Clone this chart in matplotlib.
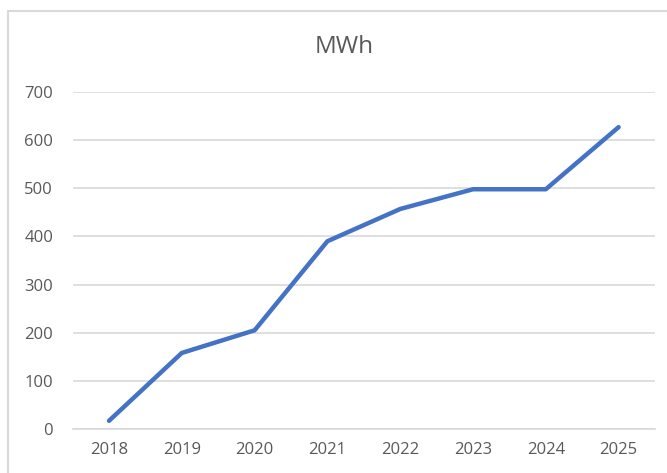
import matplotlib.pyplot as plt
from matplotlib.patches import Rectangle

years = ['2018', '2019', '2020', '2021', '2022', '2023', '2024', '2025']
mwh = [17, 158, 205, 390, 457, 498, 498, 627]
y_ticks = [0, 100, 200, 300, 400, 500, 600, 700]

plt.rcParams['font.family'] = ['Open Sans', 'DejaVu Sans']
text_gray = '#595959'

fig = plt.figure(figsize=(6.67, 4.73), dpi=100)
ax = fig.add_axes([72.6 / 667, 44 / 473, (655 - 72.6) / 667, 337 / 473])

x = range(len(years))
ax.plot(x, mwh, color='#4472C4', linewidth=3.2, solid_capstyle='round',
        solid_joinstyle='round', zorder=3)

ax.set_xlim(-0.5, len(years) - 0.5)
ax.set_ylim(0, 700)
ax.set_xticks(list(x))
ax.set_xticklabels(years)
ax.set_yticks(y_ticks)

ax.grid(axis='y', color='#D9D9D9', linewidth=1.2)
ax.set_axisbelow(True)
for side in ['top', 'right', 'left']:
    ax.spines[side].set_visible(False)
ax.spines['bottom'].set_color('#D9D9D9')
ax.spines['bottom'].set_linewidth(1.2)
ax.tick_params(length=0, colors=text_gray, labelsize=12)
ax.tick_params(axis='y', pad=14)
ax.tick_params(axis='x', pad=9)

# chart title
fig.text(344 / 667, 1 - 47 / 473, 'MWh', ha='center', va='center',
         fontsize=17.5, color=text_gray)

# outer chart border (cut off at right and bottom)
fig.patches.append(Rectangle((8 / 667, -0.1), 1.2, 1.1 - 11 / 473,
                             transform=fig.transFigure, fill=False,
                             edgecolor='#D9D9D9', linewidth=1.5))

fig.savefig('out.png', dpi=100)
